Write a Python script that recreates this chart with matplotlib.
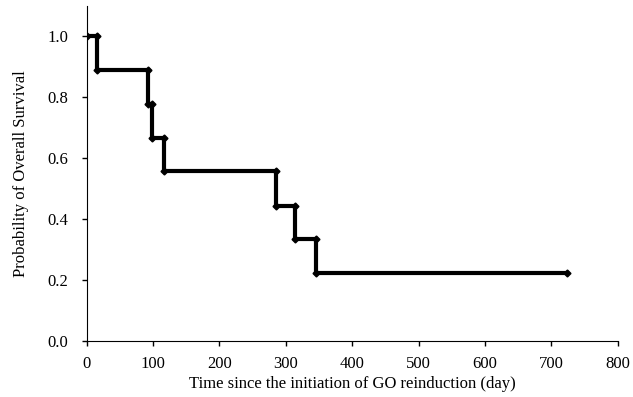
import numpy as np
import matplotlib
matplotlib.use("Agg")
import matplotlib.pyplot as plt

# event times (day) and survival after each event
times = [0, 15, 92, 99, 117, 285, 314, 345]
surv = [1.0, 0.889, 0.778, 0.667, 0.556, 0.444, 0.333, 0.222]
last_followup = 724

plt.rcParams['font.family'] = ['Liberation Serif', 'DejaVu Serif']

# build step path: each drop gets a corner point before and after
xs = [times[0]]
ys = [surv[0]]
for i in range(1, len(times)):
    xs += [times[i], times[i]]
    ys += [surv[i - 1], surv[i]]
xs.append(last_followup)
ys.append(surv[-1])

fig = plt.figure(figsize=(6.33, 3.97), dpi=100)
ax = fig.add_axes([0.137, 0.141, 0.839, 0.845])
ax.plot(xs, ys, color='black', lw=3, marker='D', markersize=3.5, solid_joinstyle='miter')

ax.set_xlim(0, 800)
ax.set_ylim(0, 1.1)
ax.set_xticks(np.arange(0, 801, 100))
ax.set_yticks(np.arange(0, 1.01, 0.2))
ax.set_yticklabels(['%.1f' % v for v in np.arange(0, 1.01, 0.2)])
ax.spines['top'].set_visible(False)
ax.spines['right'].set_visible(False)
ax.tick_params(direction='out', length=3.5, labelsize=12, width=1)
ax.tick_params(axis='x', pad=7)
ax.tick_params(axis='y', pad=10)
ax.set_xlabel('Time since the initiation of GO reinduction (day)', fontsize=12, labelpad=3)
ax.set_ylabel('Probability of Overall Survival', fontsize=12, labelpad=13)

fig.savefig('out.png', dpi=100)
